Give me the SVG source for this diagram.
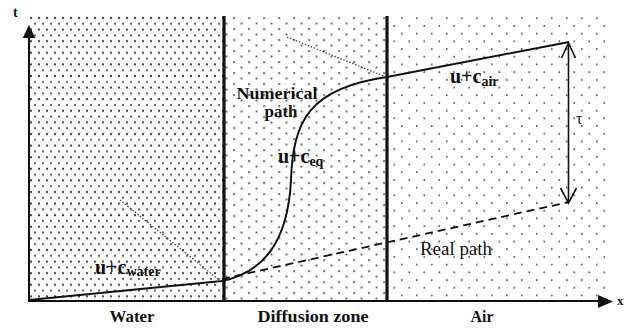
<svg xmlns="http://www.w3.org/2000/svg" width="624" height="328" viewBox="0 0 624 328">
<defs>
<pattern id="pWater" patternUnits="userSpaceOnUse" x="29" y="16" width="8" height="11.6">
<rect x="1" y="1" width="2" height="2" fill="#444"/>
<rect x="5" y="6.8" width="2" height="2" fill="#666"/>
</pattern>
<pattern id="pDiff" patternUnits="userSpaceOnUse" x="245.25" y="168.25" width="15" height="11">
<rect x="3" y="3" width="1.7" height="1.7" fill="#333"/>
<rect x="10.5" y="8.5" width="1.7" height="1.7" fill="#333"/>
</pattern>
<pattern id="pAir" patternUnits="userSpaceOnUse" x="427.95" y="122.15" width="15" height="15.4">
<rect x="3" y="3.1" width="1.6" height="1.6" fill="#444"/>
<rect x="10.5" y="10.8" width="1.6" height="1.6" fill="#444"/>
</pattern>
<style>
.thick{stroke:#111;stroke-width:3.2}
.path{fill:none;stroke:#111;stroke-width:2}
.dot{fill:none;stroke:#333;stroke-width:1.2;stroke-dasharray:1.4 1.8}
</style>
</defs>
<rect width="624" height="328" fill="#fff"/>
<g id="zones">
<rect id="water" x="29" y="16" width="195" height="285" fill="url(#pWater)"/>
<rect id="diffusion" x="224" y="16" width="163" height="285" fill="url(#pDiff)"/>
<rect id="air" x="387" y="16" width="223" height="285" fill="url(#pAir)"/>
<line class="thick" x1="224" y1="16" x2="224" y2="301"/>
<line class="thick" x1="387" y1="16" x2="387" y2="301"/>
</g>
<g id="axes" font-family="'Liberation Serif', serif" fill="#111">
<line x1="29" y1="302" x2="29" y2="36" stroke="#111" stroke-width="2"/>
<polygon points="29,25 22.7,38 35.3,38"/>
<line x1="28" y1="301" x2="601" y2="301" stroke="#111" stroke-width="2"/>
<polygon points="613,301.5 598,295 598,308"/>
<text x="13" y="17" font-size="14" font-weight="bold">t</text>
<text x="617" y="305" font-size="13" font-weight="bold">x</text>
</g>
<g id="connectors">
<path id="numerical-path" class="path" d="M29,300 L222,281 C265,272 288,240 291,180 C293,120 310,88 387,77 L569,42"/>
<path id="real-path" fill="none" stroke="#111" stroke-width="1.8" stroke-dasharray="8 5" d="M222,279 L569,202"/>
<path id="dot-water" class="dot" d="M120,200 L219,280"/>
<path id="dot-diff" class="dot" d="M287,37 L386,77"/>
<g id="tau-arrow" fill="none" stroke="#111" stroke-width="1.6">
<line x1="568.5" y1="44" x2="568.5" y2="202"/>
<polyline points="561.5,58 568.5,43 575.5,58"/>
<polyline points="560.5,188 568.5,203 576.5,188"/>
</g>
</g>
<g id="labels" font-family="'Liberation Serif', serif" fill="#111">
<text x="132" y="322" font-size="16" font-weight="bold" text-anchor="middle" textLength="45" lengthAdjust="spacingAndGlyphs">Water</text>
<text x="313" y="322" font-size="17" font-weight="bold" text-anchor="middle" textLength="111" lengthAdjust="spacingAndGlyphs">Diffusion zone</text>
<text x="482" y="322" font-size="16" font-weight="bold" text-anchor="middle">Air</text>
<text x="277" y="99" text-anchor="middle" font-size="17" font-weight="bold" textLength="81" lengthAdjust="spacingAndGlyphs">Numerical</text>
<text x="281" y="117" text-anchor="middle" font-size="17" font-weight="bold">path</text>
<text x="456" y="255" text-anchor="middle" font-size="18" textLength="72" lengthAdjust="spacingAndGlyphs">Real path</text>
<text x="576" y="124" font-size="16">τ</text>
<text x="95" y="274" font-size="20" font-weight="bold">u+c<tspan font-size="14" dy="2">water</tspan></text>
<text x="278" y="163" font-size="20" font-weight="bold">u+c<tspan font-size="14" dy="3">eq</tspan></text>
<text x="450" y="83" font-size="20" font-weight="bold">u+c<tspan font-size="14" dy="3">air</tspan></text>
</g>
</svg>
